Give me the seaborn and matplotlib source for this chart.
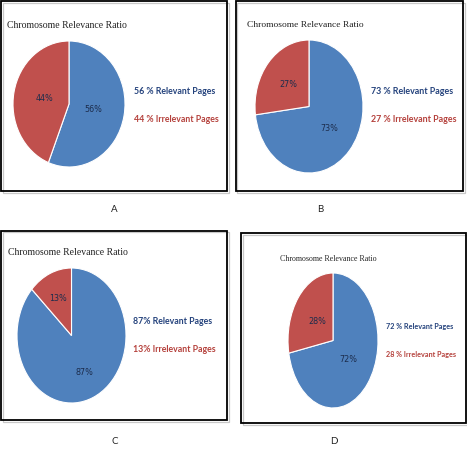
import matplotlib
matplotlib.use("Agg")
import matplotlib.pyplot as plt
from matplotlib.patches import Rectangle
import seaborn as sns

# data
panels = ["A", "B", "C", "D"]
title = "Chromosome Relevance Ratio"
relevant = [56, 73, 87, 72]
irrelevant = [44, 27, 13, 28]
relevant_text = ["56 % Relevant Pages", "73 % Relevant Pages", "87% Relevant Pages", "72 % Relevant Pages"]
irrelevant_text = ["44 % Irrelevant Pages", "27 % Irrelevant Pages", "13% Irrelevant Pages", "28 % Irrelevant Pages"]

sns.set_theme(style="white")
blue, red = "#4F81BD", "#C0504D"

W, H = 467, 450
fig = plt.figure(figsize=(W / 100, H / 100), dpi=100)

# layout in pixels (left, top, right, bottom)
boxes = [(1, 1, 227, 191), (236, 1, 463, 191), (1, 231, 227, 420), (241, 233, 466, 423)]
pies = [(13, 41, 125, 167), (255, 40, 363, 173), (17, 268, 126, 403), (288, 273, 378, 408)]
titles = [(7, 25), (247, 25), (8, 252), (280, 259)]
legends = [(134, 91, 119), (371, 92, 120), (133, 321, 350), (386, 326, 355)]
letters = [(114, 210), (320, 210), (115, 442), (334, 442)]
title_size = [7.0, 6.8, 7.0, 5.7]
legend_size = [6.3, 6.4, 6.3, 5.2]
pct_dist = [0.45, 0.5, 0.6, 0.45]


def fx(x):
    return x / W


def fy(y):
    return 1 - y / H


for i, p in enumerate(panels):
    l, t, r, b = boxes[i]
    fig.patches.append(Rectangle((fx(l + 1.5), fy(b + 1.5)), fx(r) - fx(l), fy(t) - fy(b),
                                 transform=fig.transFigure, fill=False,
                                 edgecolor="#c8c8c8", linewidth=0.9))
    fig.patches.append(Rectangle((fx(l), fy(b)), fx(r) - fx(l), fy(t) - fy(b),
                                 transform=fig.transFigure, fill=False,
                                 edgecolor="black", linewidth=1.3))
    l, t, r, b = pies[i]
    ax = fig.add_axes([fx(l), fy(b), fx(r) - fx(l), fy(t) - fy(b)])
    wedges, texts, autotexts = ax.pie(
        [relevant[i], irrelevant[i]], colors=[blue, red], startangle=90,
        counterclock=False, autopct="%1.0f%%", pctdistance=pct_dist[i],
        wedgeprops=dict(edgecolor="white", linewidth=0.8),
        textprops=dict(fontsize=5.8, color="#1c2c4c", family="Liberation Sans Narrow"))
    ax.set_aspect("auto")
    ax.set_xlim(-1, 1)
    ax.set_ylim(-1, 1)
    ax.axis("off")

    tx, ty = titles[i]
    fig.text(fx(tx), fy(ty), title, family="Liberation Serif", fontsize=title_size[i],
             va="center", ha="left", color="#222222")
    lx, ly1, ly2 = legends[i]
    fig.text(fx(lx), fy(ly1), relevant_text[i], family="Lato", fontsize=legend_size[i],
             fontweight="bold", va="center", ha="left", color="#24427c")
    fig.text(fx(lx), fy(ly2), irrelevant_text[i], family="Lato", fontsize=legend_size[i],
             fontweight="bold", va="center", ha="left", color="#b5413c")
    cx, cy = letters[i]
    fig.text(fx(cx), fy(cy), p, family="Lato", fontsize=7, va="center",
             ha="center", color="#222222")

fig.savefig("out.png", dpi=100)
